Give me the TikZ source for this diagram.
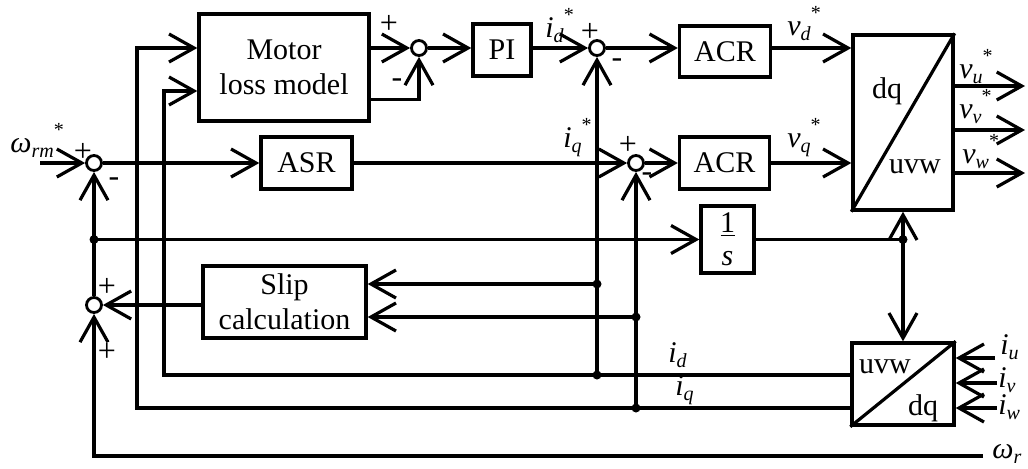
\documentclass[tikz,border=0pt]{standalone}
\usepackage{fontspec}
\setmainfont{Liberation Serif}
\usetikzlibrary{arrows.meta, positioning, calc}
\newcommand{\sig}[3]{\textit{#1}\raisebox{-2.5pt}{\fontsize{10}{12}\selectfont\textit{#2}}\raisebox{8pt}{\fontsize{10}{12}\selectfont #3}}
\tikzset{
    % Default text
    every node/.style={font=\fontsize{15}{17.5}\selectfont},
    % Block style
    block/.style={
        rectangle,
        draw,
        line width=1.7pt,
        fill=white,
        align=center,
        inner sep=1pt
    },
    % Summing point
    sumpt/.style={
        circle,
        draw,
        line width=1.4pt,
        fill=white,
        minimum size=7.5pt,
        inner sep=0pt
    },
    % Signal line
    wire/.style={
        line width=1.6pt
    },
    % Arrow style
    arrow/.style={
        ->,
        >={Straight Barb[length=12.5pt,width=14pt]},
        line width=1.6pt
    },
    % Branch point
    dot/.style={
        circle,
        fill,
        minimum size=4.5pt,
        inner sep=0pt
    },
    % Sign at a summing point
    sign/.style={
        inner sep=0pt,
        font=\fontsize{16}{18}\selectfont
    },
    % Signal label
    lbl/.style={
        inner sep=0pt,
        anchor=base west
    }
}
\begin{document}
\begin{tikzpicture}[x=0.5pt, y=-0.5pt]
        \useasboundingbox (0,0) rectangle (1028,468);

        % Blocks
        \node (motor) [block, minimum width=85pt, minimum height=53.5pt] at (284,67.5) {Motor\\loss model};
        \node (asr) [block, minimum width=45.5pt, minimum height=26pt] at (306.5,163) {ASR};
        \node (pi) [block, minimum width=29pt, minimum height=26pt] at (502,50) {PI};
        \node (acrd) [block, minimum width=45.5pt, minimum height=25.5pt] at (725,51.5) {ACR};
        \node (acrq) [block, minimum width=45pt, minimum height=26pt] at (724.5,163) {ACR};
        \node (dq2uvw) [block, minimum width=50pt, minimum height=87.5pt] at (903,122.5) {};
        \node (integ) [block, minimum width=26.5pt, minimum height=33.5pt] at (727.5,239.5) {\underline{\makebox[7pt]{1}}\\[-1pt]\textit{s}};
        \node (slip) [block, minimum width=81.5pt, minimum height=36pt] at (284.5,302) {Slip\\calculation};
        \node (uvw2dq) [block, minimum width=51pt, minimum height=41pt] at (903,384) {};

        % Coordinate converters
        \draw [wire] (dq2uvw.south west) -- (dq2uvw.north east);
        \draw [wire] (uvw2dq.south west) -- (uvw2dq.north east);
        \node (dqa) at (887,91) {dq};
        \node (uvwa) at (915,167) {uvw};
        \node (uvwb) at (885,367) {uvw};
        \node (dqb) at (923,408) {dq};

        % Summing points
        \node (sum1) [sumpt] at (94,163) {};
        \node (sum2) [sumpt] at (419,48) {};
        \node (sum3) [sumpt] at (597,48) {};
        \node (sum4) [sumpt] at (636,163) {};
        \node (sum5) [sumpt] at (94,305) {};

        % Free ends
        \coordinate (wref) at (40,163);
        \coordinate (wr) at (983,456);
        \coordinate (vu) at (1025,86);
        \coordinate (vv) at (1025,130);
        \coordinate (vw) at (1025,173);
        \coordinate (iu) at (995,358);
        \coordinate (iv) at (997,383);
        \coordinate (iw) at (997,408);
        \coordinate (idrow) at ([yshift=4.5pt]uvw2dq.west);
        \coordinate (iqrow) at ([yshift=-12pt]uvw2dq.west);
        \coordinate (idcorner) at (164,91);
        \coordinate (iqcorner) at (137,48);
        \coordinate (slipd) at ([yshift=9pt]slip.east);
        \coordinate (slipq) at ([yshift=-7.5pt]slip.east);

        % Speed loop
        \draw [arrow] (wref) -- (sum1.west);
        \draw [arrow] (sum1.east) -- (asr.west);
        \draw [arrow] (asr.east) -- (sum4.west);
        \draw [arrow] (sum4.east) -- (sum4 -| acrq.west);
        \draw [arrow] (acrq.east |- sum4) -- (sum4 -| dq2uvw.west);

        % Loss minimisation and d axis
        \draw [arrow] (motor.east |- sum2) -- (sum2.west);
        \draw [arrow] ([yshift=-16pt]motor.east) -| (sum2.south);
        \draw [arrow] (sum2.east) -- (sum2 -| pi.west);
        \draw [arrow] (pi.east |- sum3) -- (sum3.west);
        \draw [arrow] (sum3.east) -- (sum3 -| acrd.west);
        \draw [arrow] (acrd.east |- sum3) -- (sum3 -| dq2uvw.west);

        % Voltage references
        \draw [arrow] (dq2uvw.east |- vu) -- (vu);
        \draw [arrow] (dq2uvw.east |- vv) -- (vv);
        \draw [arrow] (dq2uvw.east |- vw) -- (vw);

        % Measured currents
        \draw [arrow] (iu) -- (iu -| uvw2dq.east);
        \draw [arrow] (iv) -- (iv -| uvw2dq.east);
        \draw [arrow] (iw) -- (iw -| uvw2dq.east);
        \draw [arrow] (idrow) -| (idcorner) -- (motor.west |- idcorner);
        \draw [arrow] (iqrow) -| (iqcorner) -- (motor.west |- iqcorner);
        \draw [arrow] (sum3 |- idrow) -- (sum3.south);
        \draw [arrow] (sum4 |- iqrow) -- (sum4.south);
        \draw [arrow] (sum3 |- slipd) -- (slipd);
        \draw [arrow] (sum4 |- slipq) -- (slipq);
        \node (tapd) [dot] at (sum3 |- idrow) {};
        \node (tapq) [dot] at (sum4 |- iqrow) {};
        \node (tapsd) [dot] at (sum3 |- slipd) {};
        \node (tapsq) [dot] at (sum4 |- slipq) {};

        % Slip and angle
        \draw [arrow] (slip.west |- sum5) -- (sum5.east);
        \draw [arrow] (wr) -| (sum5.south);
        \draw [arrow] (sum5.north) -- (sum1.south);
        \draw [arrow] (sum1 |- integ) -- (integ.west);
        \draw [wire] (integ.east) -- (dq2uvw.south |- integ);
        \draw [arrow] (dq2uvw.south |- integ) -- (dq2uvw.south);
        \draw [arrow] (dq2uvw.south |- integ) -- (uvw2dq.north);
        \node (tapw) [dot] at (sum1 |- integ) {};
        \node (tapth) [dot] at (dq2uvw.south |- integ) {};

        % Signs
        \node (s1p) [sign] at (83,152) {+};
        \node (s1m) [sign] at (114,182) {-};
        \node (s2p) [sign] at (389,24) {+};
        \node (s2m) [sign] at (397,83) {-};
        \node (s3p) [sign] at (590,32) {+};
        \node (s3m) [sign] at (617,63) {-};
        \node (s4p) [sign] at (628,145) {+};
        \node (s4m) [sign] at (647,177) {-};
        \node (s5p) [sign] at (107,287) {+};
        \node (s5q) [sign] at (107,352) {+};

        % Signal labels
        \node (lwref) [lbl] at (10,152) {\sig{ω}{rm}{*}};
        \node (lidref) [lbl] at (545,37) {\sig{i}{d}{*}};
        \node (liqref) [lbl] at (563,147) {\sig{i}{q}{*}};
        \node (lvd) [lbl] at (787,35) {\sig{v}{d}{*}};
        \node (lvq) [lbl] at (787,147) {\sig{v}{q}{*}};
        \node (lvu) [lbl] at (959,78) {\sig{v}{u}{*}};
        \node (lvv) [lbl] at (959,118) {\sig{v}{v}{*}};
        \node (lvw) [lbl] at (962,163) {\sig{v}{w}{*}};
        \node (lid) [lbl] at (668,362) {\sig{i}{d}{}};
        \node (liq) [lbl] at (675,395) {\sig{i}{q}{}};
        \node (liu) [lbl] at (1000,354) {\sig{i}{u}{}};
        \node (liv) [lbl] at (998,387) {\sig{i}{v}{}};
        \node (liw) [lbl] at (998,414) {\sig{i}{w}{}};
        \node (lwr) [lbl] at (992,458) {\sig{ω}{r}{}};
    \end{tikzpicture}
\end{document}
